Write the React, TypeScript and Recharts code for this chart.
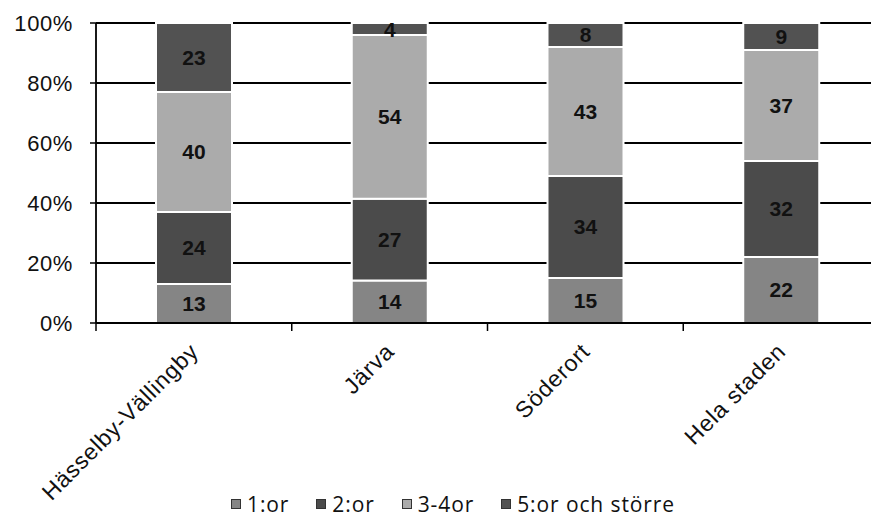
import { BarChart, Bar, XAxis, YAxis, CartesianGrid, LabelList, Legend } from 'recharts';

const categories = ['Hässelby-Vällingby', 'Järva', 'Söderort', 'Hela staden'];
const ettor = [13, 14, 15, 22];
const tvaor = [24, 27, 34, 32];
const treFyraor = [40, 54, 43, 37];
const femorOchStorre = [23, 4, 8, 9];
const yTicks = [0, 0.2, 0.4, 0.6, 0.8, 1];

const SERIES = [
  { key: 'ettor', name: '1:or', color: '#858585' },
  { key: 'tvaor', name: '2:or', color: '#4b4b4b' },
  { key: 'treFyraor', name: '3-4or', color: '#ababab' },
  { key: 'femor', name: '5:or och större', color: '#525252' },
];

const data = categories.map((name, i) => ({
  name,
  ettor: ettor[i],
  tvaor: tvaor[i],
  treFyraor: treFyraor[i],
  femor: femorOchStorre[i],
}));

const CHART_W = 900;
const Y_AXIS_W = 96;
const MARGIN_RIGHT = 21;
const PLOT_W = CHART_W - Y_AXIS_W - MARGIN_RIGHT;
const BAND = PLOT_W / categories.length;

const AXIS_FONT = '"Liberation Sans", Arial, sans-serif';

function CategoryTick(props: any) {
  const { x, y, payload } = props;
  const tx = x + 6;
  const ty = y + 30;
  return (
    <g>
      <line x1={x - BAND / 2} y1={y} x2={x - BAND / 2} y2={y + 8} stroke="#000" strokeWidth={1.5} />
      <text
        x={tx}
        y={ty}
        textAnchor="end"
        transform={`rotate(-45, ${tx}, ${ty})`}
        fontSize={23}
        letterSpacing={0.8}
        fontFamily={AXIS_FONT}
        fill="#111"
      >
        {payload.value}
      </text>
    </g>
  );
}

function LegendContent() {
  return (
    <div style={{ display: 'flex', paddingLeft: 231, alignItems: 'center', height: 28 }}>
      {SERIES.map((s) => (
        <div key={s.key} style={{ display: 'flex', alignItems: 'center', marginRight: 27 }}>
          <span style={{ width: 8, height: 8, background: s.color, border: '1px solid #333', marginRight: 6, display: 'inline-block' }} />
          <span style={{ fontFamily: '"Open Sans", sans-serif', fontSize: 21, letterSpacing: 0.9, color: '#111' }}>{s.name}</span>
        </div>
      ))}
    </div>
  );
}

export default function App() {
  return (
    <div style={{ position: 'absolute', left: 0, top: 0, width: 871, height: 522, overflow: 'hidden', background: '#fff' }}>
      <BarChart
        width={CHART_W}
        height={522}
        data={data}
        stackOffset="expand"
        margin={{ top: 23, right: MARGIN_RIGHT, bottom: 4, left: 0 }}
      >
        <CartesianGrid horizontal vertical={false} stroke="#000" strokeWidth={1.8} />
        <XAxis
          dataKey="name"
          height={167}
          interval={0}
          tickLine={false}
          tickSize={0}
          tickMargin={0}
          axisLine={{ stroke: '#000', strokeWidth: 1.8 }}
          tick={<CategoryTick />}
        />
        <YAxis
          width={Y_AXIS_W}
          domain={[0, 1]}
          ticks={yTicks}
          tickFormatter={(v: number) => `${Math.round(v * 100)}%`}
          tickSize={6}
          tickMargin={17}
          axisLine={{ stroke: '#000', strokeWidth: 1.8 }}
          tickLine={{ stroke: '#000', strokeWidth: 1.5 }}
          tick={{ fontSize: 22, fontFamily: AXIS_FONT, fill: '#111', letterSpacing: 0.6 }}
        />
        <Legend verticalAlign="bottom" height={28} content={<LegendContent />} />
        {SERIES.map((s) => (
          <Bar
            key={s.key}
            dataKey={s.key}
            name={s.name}
            stackId="a"
            fill={s.color}
            stroke="#fff"
            strokeWidth={2}
            barSize={76}
            isAnimationActive={false}
          >
            <LabelList
              dataKey={s.key}
              position="center"
              fill="#111"
              fontSize={21}
              fontWeight="bold"
              fontFamily={AXIS_FONT}
            />
          </Bar>
        ))}
      </BarChart>
    </div>
  );
}
